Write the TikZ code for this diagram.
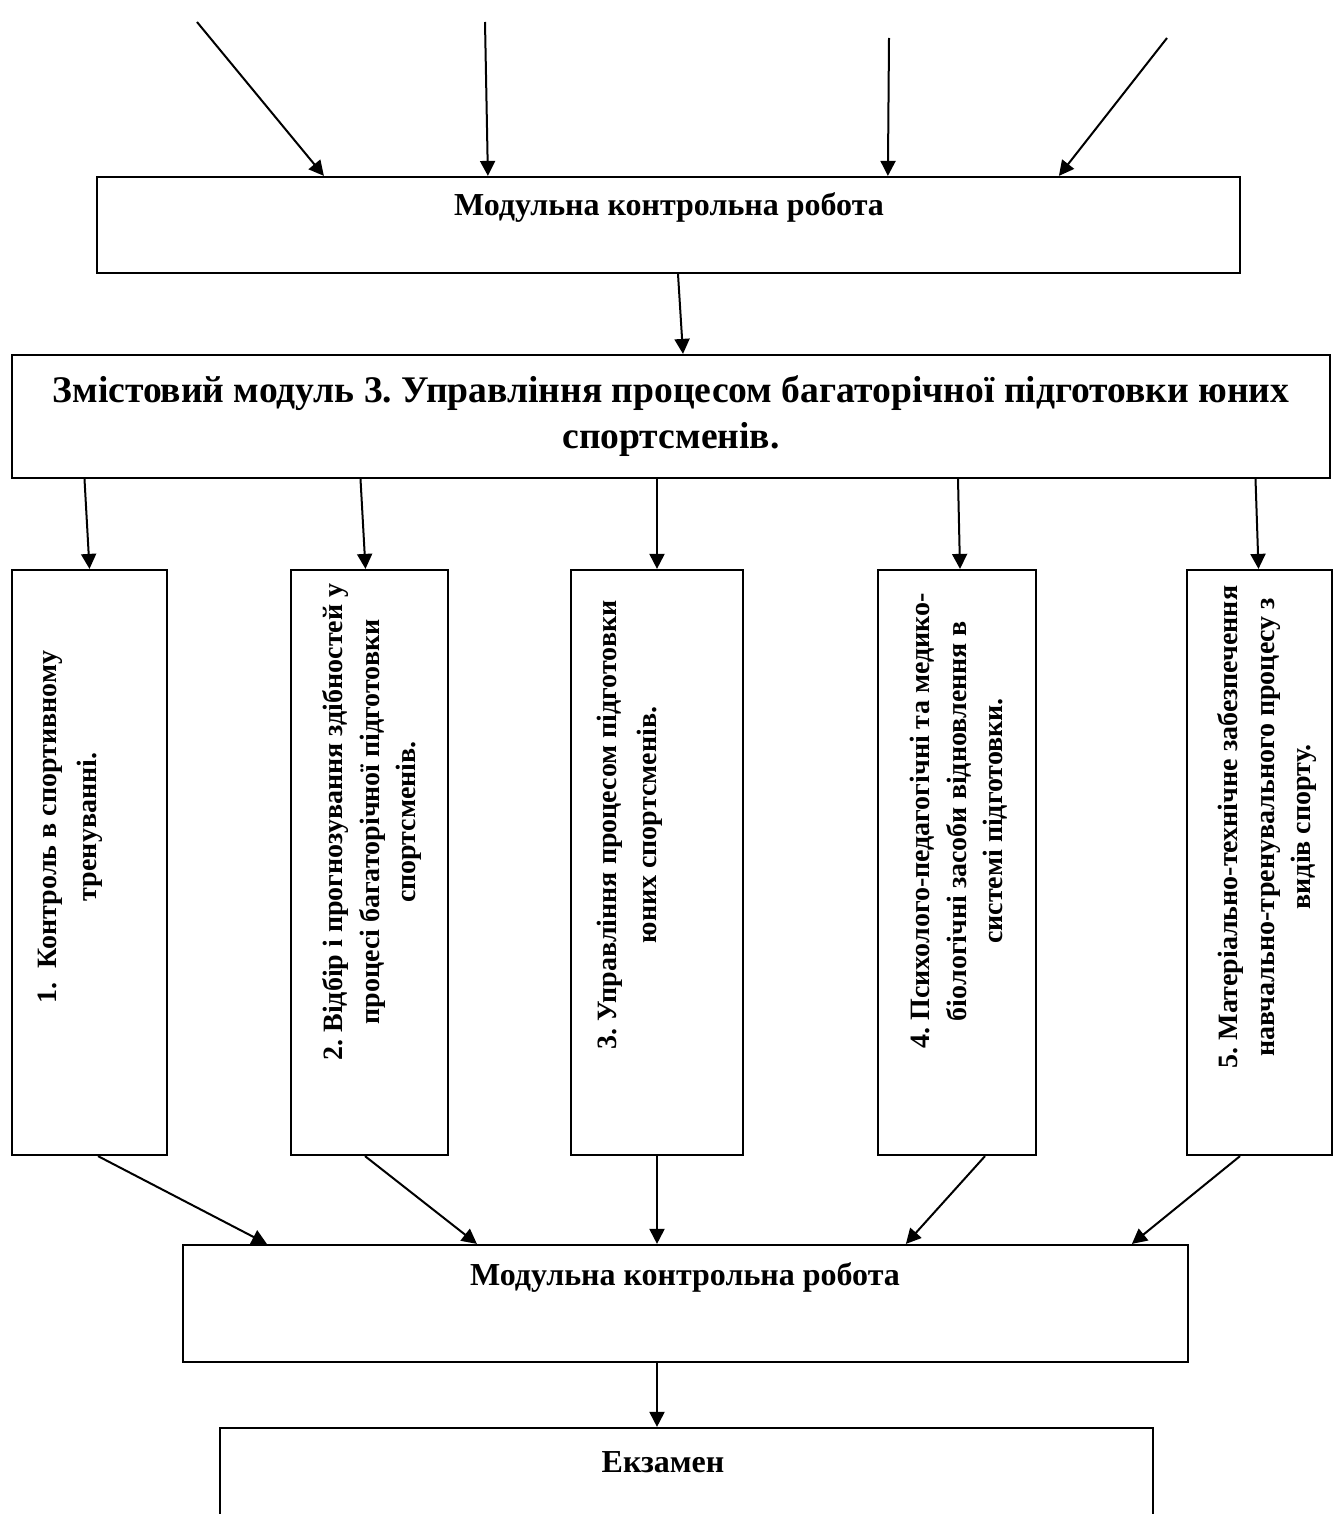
\documentclass[tikz,border=0pt]{standalone}
\usepackage{fontspec}
\setmainfont{Liberation Serif}
\usetikzlibrary{arrows.meta,calc,positioning}
\frenchspacing

\begin{document}
\begin{tikzpicture}[x=0.5pt,y=-0.5pt,
    box/.style={draw,line width=1.1pt,inner sep=0pt},
    lbl/.style={font=\bfseries\fontsize{16}{19}\selectfont,align=center,inner sep=0pt},
    biglbl/.style={font=\bfseries\fontsize{18.8}{23}\selectfont,align=center,inner sep=0pt},
    vlbl/.style={font=\bfseries\fontsize{14}{18.25}\selectfont,align=center,inner sep=0pt,rotate=90},
    arr/.style={line width=1pt,-{Triangle[length=7.5pt,width=7.5pt]}}]
    \useasboundingbox (0,0) rectangle (1343,1514);
    \clip (0,0) rectangle (1343,1514);

    % boxes
    \node[box,minimum width=571.5pt,minimum height=48pt] (mkr1) at (668.5,225) {};
    \node[lbl] (tmkr1) at (669,208) {Модульна контрольна робота};
    \node[box,biglbl,minimum width=659pt,minimum height=61.5pt] (mod) at (671,416.5)
        {Змістовий модуль 3. Управління процесом багаторічної підготовки юних\\спортсменів.};

    \node[box,minimum width=77.5pt,minimum height=292.5pt] (b1) at (89.5,862.5) {};
    \node[box,minimum width=78.5pt,minimum height=292.5pt] (b2) at (369.5,862.5) {};
    \node[box,minimum width=86pt,minimum height=292.5pt] (b3) at (657,862.5) {};
    \node[box,minimum width=79pt,minimum height=292.5pt] (b4) at (957,862.5) {};
    \node[box,minimum width=72.5pt,minimum height=292.5pt] (b5) at (1259.5,862.5) {};

    \node[vlbl,font=\bfseries\fontsize{14}{20}\selectfont] (t1) at (70,827) {1.\enspace Контроль в спортивному\\тренуванні.};
    \node[vlbl] (t2) at (372,822) {2. Відбір і прогнозування здібностей у\\процесі багаторічної підготовки\\спортсменів.};
    \node[vlbl,font=\bfseries\fontsize{14}{20}\selectfont] (t3) at (630,825) {3. Управління процесом підготовки\\юних спортсменів.};
    \node[vlbl] (t4) at (959,821) {4. Психолого-педагогічні та медико-\\біологічні засоби відновлення в\\системі підготовки.};
    \node[vlbl] (t5) at (1267,827) {5. Матеріально-технічне забезпечення\\навчально-тренувального процесу з\\видів спорту.};

    \node[box,minimum width=502.5pt,minimum height=58.5pt] (mkr2) at (685.5,1303.5) {};
    \node[lbl] (tmkr2) at (685,1277) {Модульна контрольна робота};
    \node[box,minimum width=466.5pt,minimum height=66pt] (exam) at (686.5,1494) {};
    \node[lbl] (texam) at (663,1462) {Екзамен};

    % free ends of the top arrows
    \coordinate (s1) at (197,22);
    \coordinate (s2) at (485,22);
    \coordinate (s3) at (889,38);
    \coordinate (s4) at (1167,38);

    % arrows
    \draw[arr] (s1) -- ($(mkr1.north west)+(228,0)$);
    \draw[arr] (s2) -- ($(mkr1.north west)+(392,0)$);
    \draw[arr] (s3) -- ($(mkr1.north west)+(792,0)$);
    \draw[arr] (s4) -- ($(mkr1.north west)+(963,0)$);
    \draw[arr] ($(mkr1.south)+(9.5,0)$) -- ($(mod.north)+(12,0)$);

    \draw[arr] ($(mod.south -| b1.north)+(-5,0)$) -- (b1.north);
    \draw[arr] ($(mod.south -| b2.north)+(-9,0)$) -- ($(b2.north)+(-4,0)$);
    \draw[arr] (mod.south -| b3.north) -- (b3.north);
    \draw[arr] ($(mod.south -| b4.north)+(1,0)$) -- ($(b4.north)+(3,0)$);
    \draw[arr] ($(mod.south -| b5.north)+(-4,0)$) -- ($(b5.north)+(-1,0)$);

    \draw[arr] ($(b1.south)+(8.5,0)$) -- ($(mkr2.north west)+(85,0)$);
    \draw[arr] ($(b2.south)+(-4.5,0)$) -- ($(mkr2.north west)+(295,0)$);
    \draw[arr] (b3.south) -- (mkr2.north -| b3.south);
    \draw[arr] ($(b4.south)+(28,0)$) -- ($(mkr2.north west)+(724,0)$);
    \draw[arr] ($(b5.south)+(-19.5,0)$) -- ($(mkr2.north west)+(950,0)$);

    \draw[arr] (mkr2.south -| b3.south) -- (exam.north -| b3.south);
\end{tikzpicture}
\end{document}
